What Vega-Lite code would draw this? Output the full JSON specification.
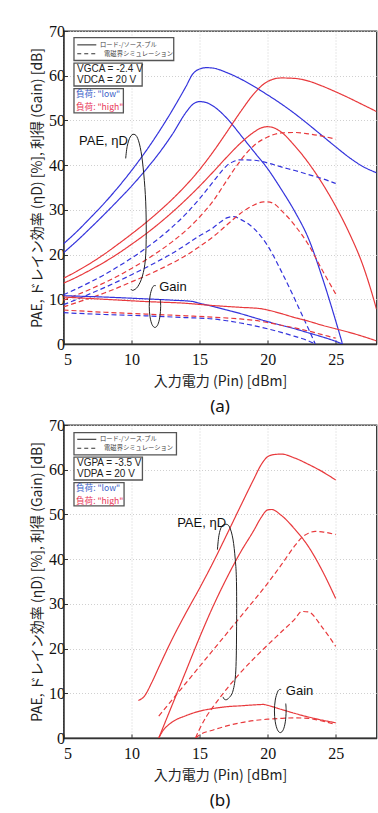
{
  "$schema": "https://vega.github.io/schema/vega-lite/v6.json",
  "padding": {"left": 29.5, "top": 22, "right": 0, "bottom": 0},
  "spacing": 0,
  "datasets": {
    "curves": [
      {"panel":"a","load":"low","method":"lp","metric":"de","x":5,"y":22.4},{"panel":"a","load":"low","method":"lp","metric":"de","x":6,"y":25.2},{"panel":"a","load":"low","method":"lp","metric":"de","x":7,"y":28.3},{"panel":"a","load":"low","method":"lp","metric":"de","x":8,"y":31.5},{"panel":"a","load":"low","method":"lp","metric":"de","x":9,"y":35.0},{"panel":"a","load":"low","method":"lp","metric":"de","x":10,"y":38.8},{"panel":"a","load":"low","method":"lp","metric":"de","x":11,"y":42.9},{"panel":"a","load":"low","method":"lp","metric":"de","x":12,"y":47.4},{"panel":"a","load":"low","method":"lp","metric":"de","x":13,"y":52.3},{"panel":"a","load":"low","method":"lp","metric":"de","x":14,"y":57.6},{"panel":"a","load":"low","method":"lp","metric":"de","x":14.5,"y":60.4},{"panel":"a","load":"low","method":"lp","metric":"de","x":15,"y":61.5},{"panel":"a","load":"low","method":"lp","metric":"de","x":15.5,"y":61.8},{"panel":"a","load":"low","method":"lp","metric":"de","x":16,"y":61.7},{"panel":"a","load":"low","method":"lp","metric":"de","x":17,"y":60.7},{"panel":"a","load":"low","method":"lp","metric":"de","x":18,"y":59.3},{"panel":"a","load":"low","method":"lp","metric":"de","x":19,"y":57.6},{"panel":"a","load":"low","method":"lp","metric":"de","x":20,"y":55.7},{"panel":"a","load":"low","method":"lp","metric":"de","x":21,"y":53.7},{"panel":"a","load":"low","method":"lp","metric":"de","x":22,"y":51.5},{"panel":"a","load":"low","method":"lp","metric":"de","x":23,"y":49.1},{"panel":"a","load":"low","method":"lp","metric":"de","x":24,"y":46.6},{"panel":"a","load":"low","method":"lp","metric":"de","x":25,"y":44.1},{"panel":"a","load":"low","method":"lp","metric":"de","x":26,"y":41.7},{"panel":"a","load":"low","method":"lp","metric":"de","x":27,"y":39.7},{"panel":"a","load":"low","method":"lp","metric":"de","x":28,"y":38.3},
      {"panel":"a","load":"low","method":"lp","metric":"pae","x":5,"y":20.4},{"panel":"a","load":"low","method":"lp","metric":"pae","x":6,"y":23.1},{"panel":"a","load":"low","method":"lp","metric":"pae","x":7,"y":26.0},{"panel":"a","load":"low","method":"lp","metric":"pae","x":8,"y":29.0},{"panel":"a","load":"low","method":"lp","metric":"pae","x":9,"y":32.1},{"panel":"a","load":"low","method":"lp","metric":"pae","x":10,"y":35.3},{"panel":"a","load":"low","method":"lp","metric":"pae","x":11,"y":38.8},{"panel":"a","load":"low","method":"lp","metric":"pae","x":12,"y":42.6},{"panel":"a","load":"low","method":"lp","metric":"pae","x":13,"y":46.9},{"panel":"a","load":"low","method":"lp","metric":"pae","x":14,"y":51.8},{"panel":"a","load":"low","method":"lp","metric":"pae","x":14.5,"y":53.6},{"panel":"a","load":"low","method":"lp","metric":"pae","x":15,"y":54.2},{"panel":"a","load":"low","method":"lp","metric":"pae","x":15.5,"y":54.0},{"panel":"a","load":"low","method":"lp","metric":"pae","x":16,"y":53.2},{"panel":"a","load":"low","method":"lp","metric":"pae","x":17,"y":50.5},{"panel":"a","load":"low","method":"lp","metric":"pae","x":18,"y":46.8},{"panel":"a","load":"low","method":"lp","metric":"pae","x":19,"y":43.0},{"panel":"a","load":"low","method":"lp","metric":"pae","x":20,"y":39.2},{"panel":"a","load":"low","method":"lp","metric":"pae","x":21,"y":34.6},{"panel":"a","load":"low","method":"lp","metric":"pae","x":22,"y":29.6},{"panel":"a","load":"low","method":"lp","metric":"pae","x":23,"y":23.6},{"panel":"a","load":"low","method":"lp","metric":"pae","x":24,"y":15.0},{"panel":"a","load":"low","method":"lp","metric":"pae","x":25,"y":5.2},{"panel":"a","load":"low","method":"lp","metric":"pae","x":25.5,"y":0},
      {"panel":"a","load":"high","method":"lp","metric":"de","x":5,"y":14.7},{"panel":"a","load":"high","method":"lp","metric":"de","x":6,"y":16.3},{"panel":"a","load":"high","method":"lp","metric":"de","x":7,"y":18.1},{"panel":"a","load":"high","method":"lp","metric":"de","x":8,"y":20.1},{"panel":"a","load":"high","method":"lp","metric":"de","x":9,"y":22.3},{"panel":"a","load":"high","method":"lp","metric":"de","x":10,"y":24.6},{"panel":"a","load":"high","method":"lp","metric":"de","x":11,"y":27.0},{"panel":"a","load":"high","method":"lp","metric":"de","x":12,"y":29.6},{"panel":"a","load":"high","method":"lp","metric":"de","x":13,"y":32.4},{"panel":"a","load":"high","method":"lp","metric":"de","x":14,"y":35.5},{"panel":"a","load":"high","method":"lp","metric":"de","x":15,"y":39.0},{"panel":"a","load":"high","method":"lp","metric":"de","x":16,"y":43.0},{"panel":"a","load":"high","method":"lp","metric":"de","x":17,"y":47.4},{"panel":"a","load":"high","method":"lp","metric":"de","x":18,"y":51.9},{"panel":"a","load":"high","method":"lp","metric":"de","x":19,"y":56.0},{"panel":"a","load":"high","method":"lp","metric":"de","x":19.5,"y":57.6},{"panel":"a","load":"high","method":"lp","metric":"de","x":20,"y":58.7},{"panel":"a","load":"high","method":"lp","metric":"de","x":20.5,"y":59.3},{"panel":"a","load":"high","method":"lp","metric":"de","x":21,"y":59.5},{"panel":"a","load":"high","method":"lp","metric":"de","x":22,"y":59.4},{"panel":"a","load":"high","method":"lp","metric":"de","x":23,"y":58.8},{"panel":"a","load":"high","method":"lp","metric":"de","x":24,"y":57.7},{"panel":"a","load":"high","method":"lp","metric":"de","x":25,"y":56.4},{"panel":"a","load":"high","method":"lp","metric":"de","x":26,"y":55.0},{"panel":"a","load":"high","method":"lp","metric":"de","x":27,"y":53.5},{"panel":"a","load":"high","method":"lp","metric":"de","x":28,"y":52.0},
      {"panel":"a","load":"high","method":"lp","metric":"pae","x":5,"y":13.6},{"panel":"a","load":"high","method":"lp","metric":"pae","x":6,"y":15.0},{"panel":"a","load":"high","method":"lp","metric":"pae","x":7,"y":16.6},{"panel":"a","load":"high","method":"lp","metric":"pae","x":8,"y":18.3},{"panel":"a","load":"high","method":"lp","metric":"pae","x":9,"y":20.2},{"panel":"a","load":"high","method":"lp","metric":"pae","x":10,"y":22.3},{"panel":"a","load":"high","method":"lp","metric":"pae","x":11,"y":24.5},{"panel":"a","load":"high","method":"lp","metric":"pae","x":12,"y":26.9},{"panel":"a","load":"high","method":"lp","metric":"pae","x":13,"y":29.5},{"panel":"a","load":"high","method":"lp","metric":"pae","x":14,"y":32.3},{"panel":"a","load":"high","method":"lp","metric":"pae","x":15,"y":35.3},{"panel":"a","load":"high","method":"lp","metric":"pae","x":16,"y":38.5},{"panel":"a","load":"high","method":"lp","metric":"pae","x":17,"y":41.8},{"panel":"a","load":"high","method":"lp","metric":"pae","x":18,"y":44.9},{"panel":"a","load":"high","method":"lp","metric":"pae","x":19,"y":47.4},{"panel":"a","load":"high","method":"lp","metric":"pae","x":19.5,"y":48.3},{"panel":"a","load":"high","method":"lp","metric":"pae","x":20,"y":48.6},{"panel":"a","load":"high","method":"lp","metric":"pae","x":20.5,"y":48.3},{"panel":"a","load":"high","method":"lp","metric":"pae","x":21,"y":47.4},{"panel":"a","load":"high","method":"lp","metric":"pae","x":22,"y":44.3},{"panel":"a","load":"high","method":"lp","metric":"pae","x":23,"y":40.5},{"panel":"a","load":"high","method":"lp","metric":"pae","x":24,"y":36.0},{"panel":"a","load":"high","method":"lp","metric":"pae","x":25,"y":30.8},{"panel":"a","load":"high","method":"lp","metric":"pae","x":26,"y":24.8},{"panel":"a","load":"high","method":"lp","metric":"pae","x":27,"y":17.6},{"panel":"a","load":"high","method":"lp","metric":"pae","x":27.5,"y":13.0},{"panel":"a","load":"high","method":"lp","metric":"pae","x":28,"y":7.8},
      {"panel":"a","load":"low","method":"em","metric":"de","x":5,"y":11.0},{"panel":"a","load":"low","method":"em","metric":"de","x":6,"y":12.4},{"panel":"a","load":"low","method":"em","metric":"de","x":7,"y":13.9},{"panel":"a","load":"low","method":"em","metric":"de","x":8,"y":15.5},{"panel":"a","load":"low","method":"em","metric":"de","x":9,"y":17.3},{"panel":"a","load":"low","method":"em","metric":"de","x":10,"y":19.2},{"panel":"a","load":"low","method":"em","metric":"de","x":11,"y":21.3},{"panel":"a","load":"low","method":"em","metric":"de","x":12,"y":23.6},{"panel":"a","load":"low","method":"em","metric":"de","x":13,"y":26.2},{"panel":"a","load":"low","method":"em","metric":"de","x":14,"y":29.1},{"panel":"a","load":"low","method":"em","metric":"de","x":15,"y":32.5},{"panel":"a","load":"low","method":"em","metric":"de","x":16,"y":36.3},{"panel":"a","load":"low","method":"em","metric":"de","x":16.5,"y":38.2},{"panel":"a","load":"low","method":"em","metric":"de","x":17,"y":39.9},{"panel":"a","load":"low","method":"em","metric":"de","x":17.5,"y":40.8},{"panel":"a","load":"low","method":"em","metric":"de","x":18,"y":41.2},{"panel":"a","load":"low","method":"em","metric":"de","x":19,"y":41.1},{"panel":"a","load":"low","method":"em","metric":"de","x":20,"y":40.5},{"panel":"a","load":"low","method":"em","metric":"de","x":21,"y":39.6},{"panel":"a","load":"low","method":"em","metric":"de","x":22,"y":38.8},{"panel":"a","load":"low","method":"em","metric":"de","x":23,"y":37.9},{"panel":"a","load":"low","method":"em","metric":"de","x":24,"y":37.0},{"panel":"a","load":"low","method":"em","metric":"de","x":25,"y":35.9},
      {"panel":"a","load":"low","method":"em","metric":"pae","x":5,"y":8.8},{"panel":"a","load":"low","method":"em","metric":"pae","x":6,"y":10.0},{"panel":"a","load":"low","method":"em","metric":"pae","x":7,"y":11.3},{"panel":"a","load":"low","method":"em","metric":"pae","x":8,"y":12.6},{"panel":"a","load":"low","method":"em","metric":"pae","x":9,"y":14.0},{"panel":"a","load":"low","method":"em","metric":"pae","x":10,"y":15.5},{"panel":"a","load":"low","method":"em","metric":"pae","x":11,"y":17.0},{"panel":"a","load":"low","method":"em","metric":"pae","x":12,"y":18.6},{"panel":"a","load":"low","method":"em","metric":"pae","x":13,"y":20.3},{"panel":"a","load":"low","method":"em","metric":"pae","x":14,"y":22.2},{"panel":"a","load":"low","method":"em","metric":"pae","x":15,"y":24.2},{"panel":"a","load":"low","method":"em","metric":"pae","x":16,"y":26.0},{"panel":"a","load":"low","method":"em","metric":"pae","x":16.5,"y":27.2},{"panel":"a","load":"low","method":"em","metric":"pae","x":17,"y":28.2},{"panel":"a","load":"low","method":"em","metric":"pae","x":17.5,"y":28.5},{"panel":"a","load":"low","method":"em","metric":"pae","x":18,"y":27.9},{"panel":"a","load":"low","method":"em","metric":"pae","x":19,"y":25.8},{"panel":"a","load":"low","method":"em","metric":"pae","x":20,"y":22.0},{"panel":"a","load":"low","method":"em","metric":"pae","x":21,"y":16.3},{"panel":"a","load":"low","method":"em","metric":"pae","x":22,"y":10.0},{"panel":"a","load":"low","method":"em","metric":"pae","x":22.5,"y":6.7},{"panel":"a","load":"low","method":"em","metric":"pae","x":23,"y":3.4},{"panel":"a","load":"low","method":"em","metric":"pae","x":23.5,"y":0},
      {"panel":"a","load":"high","method":"em","metric":"de","x":5,"y":9.8},{"panel":"a","load":"high","method":"em","metric":"de","x":6,"y":11.0},{"panel":"a","load":"high","method":"em","metric":"de","x":7,"y":12.3},{"panel":"a","load":"high","method":"em","metric":"de","x":8,"y":13.7},{"panel":"a","load":"high","method":"em","metric":"de","x":9,"y":15.2},{"panel":"a","load":"high","method":"em","metric":"de","x":10,"y":16.9},{"panel":"a","load":"high","method":"em","metric":"de","x":11,"y":18.7},{"panel":"a","load":"high","method":"em","metric":"de","x":12,"y":20.7},{"panel":"a","load":"high","method":"em","metric":"de","x":13,"y":22.9},{"panel":"a","load":"high","method":"em","metric":"de","x":14,"y":25.4},{"panel":"a","load":"high","method":"em","metric":"de","x":15,"y":28.4},{"panel":"a","load":"high","method":"em","metric":"de","x":16,"y":32.0},{"panel":"a","load":"high","method":"em","metric":"de","x":17,"y":36.6},{"panel":"a","load":"high","method":"em","metric":"de","x":18,"y":41.0},{"panel":"a","load":"high","method":"em","metric":"de","x":19,"y":44.4},{"panel":"a","load":"high","method":"em","metric":"de","x":20,"y":46.3},{"panel":"a","load":"high","method":"em","metric":"de","x":21,"y":47.2},{"panel":"a","load":"high","method":"em","metric":"de","x":22,"y":47.3},{"panel":"a","load":"high","method":"em","metric":"de","x":23,"y":47.0},{"panel":"a","load":"high","method":"em","metric":"de","x":24,"y":46.5},{"panel":"a","load":"high","method":"em","metric":"de","x":25,"y":45.8},
      {"panel":"a","load":"high","method":"em","metric":"pae","x":5,"y":8.3},{"panel":"a","load":"high","method":"em","metric":"pae","x":6,"y":9.3},{"panel":"a","load":"high","method":"em","metric":"pae","x":7,"y":10.3},{"panel":"a","load":"high","method":"em","metric":"pae","x":8,"y":11.4},{"panel":"a","load":"high","method":"em","metric":"pae","x":9,"y":12.6},{"panel":"a","load":"high","method":"em","metric":"pae","x":10,"y":13.9},{"panel":"a","load":"high","method":"em","metric":"pae","x":11,"y":15.2},{"panel":"a","load":"high","method":"em","metric":"pae","x":12,"y":16.6},{"panel":"a","load":"high","method":"em","metric":"pae","x":13,"y":18.1},{"panel":"a","load":"high","method":"em","metric":"pae","x":14,"y":19.8},{"panel":"a","load":"high","method":"em","metric":"pae","x":15,"y":21.8},{"panel":"a","load":"high","method":"em","metric":"pae","x":16,"y":24.0},{"panel":"a","load":"high","method":"em","metric":"pae","x":17,"y":26.6},{"panel":"a","load":"high","method":"em","metric":"pae","x":18,"y":29.2},{"panel":"a","load":"high","method":"em","metric":"pae","x":19,"y":31.1},{"panel":"a","load":"high","method":"em","metric":"pae","x":19.7,"y":31.8},{"panel":"a","load":"high","method":"em","metric":"pae","x":20,"y":31.8},{"panel":"a","load":"high","method":"em","metric":"pae","x":20.5,"y":31.3},{"panel":"a","load":"high","method":"em","metric":"pae","x":21,"y":29.9},{"panel":"a","load":"high","method":"em","metric":"pae","x":22,"y":26.5},{"panel":"a","load":"high","method":"em","metric":"pae","x":23,"y":22.2},{"panel":"a","load":"high","method":"em","metric":"pae","x":24,"y":16.6},{"panel":"a","load":"high","method":"em","metric":"pae","x":25,"y":11.2},
      {"panel":"a","load":"low","method":"lp","metric":"gain","x":5,"y":10.8},{"panel":"a","load":"low","method":"lp","metric":"gain","x":8,"y":10.5},{"panel":"a","load":"low","method":"lp","metric":"gain","x":11,"y":10.1},{"panel":"a","load":"low","method":"lp","metric":"gain","x":13,"y":9.8},{"panel":"a","load":"low","method":"lp","metric":"gain","x":14.5,"y":9.5},{"panel":"a","load":"low","method":"lp","metric":"gain","x":15,"y":9.1},{"panel":"a","load":"low","method":"lp","metric":"gain","x":16,"y":8.4},{"panel":"a","load":"low","method":"lp","metric":"gain","x":17,"y":7.6},{"panel":"a","load":"low","method":"lp","metric":"gain","x":18,"y":6.8},{"panel":"a","load":"low","method":"lp","metric":"gain","x":19,"y":5.9},{"panel":"a","load":"low","method":"lp","metric":"gain","x":20,"y":5.0},{"panel":"a","load":"low","method":"lp","metric":"gain","x":21,"y":4.2},{"panel":"a","load":"low","method":"lp","metric":"gain","x":22,"y":3.4},{"panel":"a","load":"low","method":"lp","metric":"gain","x":23,"y":2.5},{"panel":"a","load":"low","method":"lp","metric":"gain","x":24,"y":1.6},{"panel":"a","load":"low","method":"lp","metric":"gain","x":25,"y":0.6},{"panel":"a","load":"low","method":"lp","metric":"gain","x":25.5,"y":0},
      {"panel":"a","load":"high","method":"lp","metric":"gain","x":5,"y":10.5},{"panel":"a","load":"high","method":"lp","metric":"gain","x":8,"y":10.0},{"panel":"a","load":"high","method":"lp","metric":"gain","x":11,"y":9.5},{"panel":"a","load":"high","method":"lp","metric":"gain","x":14,"y":9.1},{"panel":"a","load":"high","method":"lp","metric":"gain","x":16,"y":8.6},{"panel":"a","load":"high","method":"lp","metric":"gain","x":18,"y":8.2},{"panel":"a","load":"high","method":"lp","metric":"gain","x":19.5,"y":7.9},{"panel":"a","load":"high","method":"lp","metric":"gain","x":20,"y":7.6},{"panel":"a","load":"high","method":"lp","metric":"gain","x":21,"y":6.8},{"panel":"a","load":"high","method":"lp","metric":"gain","x":22,"y":5.9},{"panel":"a","load":"high","method":"lp","metric":"gain","x":23,"y":5.1},{"panel":"a","load":"high","method":"lp","metric":"gain","x":24,"y":4.2},{"panel":"a","load":"high","method":"lp","metric":"gain","x":25,"y":3.4},{"panel":"a","load":"high","method":"lp","metric":"gain","x":26,"y":2.6},{"panel":"a","load":"high","method":"lp","metric":"gain","x":27,"y":1.7},{"panel":"a","load":"high","method":"lp","metric":"gain","x":28,"y":0.7},
      {"panel":"a","load":"low","method":"em","metric":"gain","x":5,"y":7.0},{"panel":"a","load":"low","method":"em","metric":"gain","x":8,"y":6.6},{"panel":"a","load":"low","method":"em","metric":"gain","x":11,"y":6.3},{"panel":"a","load":"low","method":"em","metric":"gain","x":14,"y":5.9},{"panel":"a","load":"low","method":"em","metric":"gain","x":16,"y":5.6},{"panel":"a","load":"low","method":"em","metric":"gain","x":17,"y":5.2},{"panel":"a","load":"low","method":"em","metric":"gain","x":18,"y":4.7},{"panel":"a","load":"low","method":"em","metric":"gain","x":19,"y":4.1},{"panel":"a","load":"low","method":"em","metric":"gain","x":20,"y":3.4},{"panel":"a","load":"low","method":"em","metric":"gain","x":21,"y":2.6},{"panel":"a","load":"low","method":"em","metric":"gain","x":22,"y":1.7},{"panel":"a","load":"low","method":"em","metric":"gain","x":23,"y":0.7},{"panel":"a","load":"low","method":"em","metric":"gain","x":23.5,"y":0},
      {"panel":"a","load":"high","method":"em","metric":"gain","x":5,"y":7.6},{"panel":"a","load":"high","method":"em","metric":"gain","x":8,"y":7.1},{"panel":"a","load":"high","method":"em","metric":"gain","x":11,"y":6.7},{"panel":"a","load":"high","method":"em","metric":"gain","x":14,"y":6.3},{"panel":"a","load":"high","method":"em","metric":"gain","x":16,"y":6.0},{"panel":"a","load":"high","method":"em","metric":"gain","x":18,"y":5.6},{"panel":"a","load":"high","method":"em","metric":"gain","x":19,"y":5.3},{"panel":"a","load":"high","method":"em","metric":"gain","x":20,"y":4.8},{"panel":"a","load":"high","method":"em","metric":"gain","x":21,"y":4.2},{"panel":"a","load":"high","method":"em","metric":"gain","x":22,"y":3.6},{"panel":"a","load":"high","method":"em","metric":"gain","x":23,"y":2.9},{"panel":"a","load":"high","method":"em","metric":"gain","x":24,"y":2.1},{"panel":"a","load":"high","method":"em","metric":"gain","x":25,"y":1.3},
      {"panel":"b","load":"high","method":"lp","metric":"de","x":10.5,"y":8.4},{"panel":"b","load":"high","method":"lp","metric":"de","x":10.9,"y":9.2},{"panel":"b","load":"high","method":"lp","metric":"de","x":11.5,"y":12.5},{"panel":"b","load":"high","method":"lp","metric":"de","x":12,"y":15.8},{"panel":"b","load":"high","method":"lp","metric":"de","x":13,"y":22.2},{"panel":"b","load":"high","method":"lp","metric":"de","x":14,"y":28.0},{"panel":"b","load":"high","method":"lp","metric":"de","x":15,"y":33.5},{"panel":"b","load":"high","method":"lp","metric":"de","x":16,"y":39.3},{"panel":"b","load":"high","method":"lp","metric":"de","x":17,"y":45.5},{"panel":"b","load":"high","method":"lp","metric":"de","x":18,"y":51.8},{"panel":"b","load":"high","method":"lp","metric":"de","x":19,"y":58.0},{"panel":"b","load":"high","method":"lp","metric":"de","x":19.5,"y":61.0},{"panel":"b","load":"high","method":"lp","metric":"de","x":20,"y":62.9},{"panel":"b","load":"high","method":"lp","metric":"de","x":20.5,"y":63.4},{"panel":"b","load":"high","method":"lp","metric":"de","x":21,"y":63.5},{"panel":"b","load":"high","method":"lp","metric":"de","x":22,"y":62.6},{"panel":"b","load":"high","method":"lp","metric":"de","x":23,"y":61.2},{"panel":"b","load":"high","method":"lp","metric":"de","x":24,"y":59.6},{"panel":"b","load":"high","method":"lp","metric":"de","x":25,"y":57.7},
      {"panel":"b","load":"high","method":"lp","metric":"pae","x":12,"y":0},{"panel":"b","load":"high","method":"lp","metric":"pae","x":13,"y":7.5},{"panel":"b","load":"high","method":"lp","metric":"pae","x":14,"y":15.0},{"panel":"b","load":"high","method":"lp","metric":"pae","x":15,"y":22.5},{"panel":"b","load":"high","method":"lp","metric":"pae","x":16,"y":29.5},{"panel":"b","load":"high","method":"lp","metric":"pae","x":17,"y":35.8},{"panel":"b","load":"high","method":"lp","metric":"pae","x":18,"y":41.5},{"panel":"b","load":"high","method":"lp","metric":"pae","x":19,"y":46.5},{"panel":"b","load":"high","method":"lp","metric":"pae","x":19.5,"y":49.2},{"panel":"b","load":"high","method":"lp","metric":"pae","x":20,"y":51.0},{"panel":"b","load":"high","method":"lp","metric":"pae","x":20.3,"y":51.1},{"panel":"b","load":"high","method":"lp","metric":"pae","x":21,"y":49.8},{"panel":"b","load":"high","method":"lp","metric":"pae","x":22,"y":46.7},{"panel":"b","load":"high","method":"lp","metric":"pae","x":23,"y":42.8},{"panel":"b","load":"high","method":"lp","metric":"pae","x":24,"y":37.5},{"panel":"b","load":"high","method":"lp","metric":"pae","x":25,"y":31.2},
      {"panel":"b","load":"high","method":"em","metric":"de","x":12,"y":4.9},{"panel":"b","load":"high","method":"em","metric":"de","x":13,"y":8.6},{"panel":"b","load":"high","method":"em","metric":"de","x":14,"y":12.3},{"panel":"b","load":"high","method":"em","metric":"de","x":15,"y":16.0},{"panel":"b","load":"high","method":"em","metric":"de","x":16,"y":19.7},{"panel":"b","load":"high","method":"em","metric":"de","x":17,"y":23.4},{"panel":"b","load":"high","method":"em","metric":"de","x":18,"y":27.1},{"panel":"b","load":"high","method":"em","metric":"de","x":19,"y":30.8},{"panel":"b","load":"high","method":"em","metric":"de","x":20,"y":34.6},{"panel":"b","load":"high","method":"em","metric":"de","x":21,"y":38.7},{"panel":"b","load":"high","method":"em","metric":"de","x":22,"y":43.0},{"panel":"b","load":"high","method":"em","metric":"de","x":22.5,"y":44.8},{"panel":"b","load":"high","method":"em","metric":"de","x":23,"y":45.8},{"panel":"b","load":"high","method":"em","metric":"de","x":23.5,"y":46.2},{"panel":"b","load":"high","method":"em","metric":"de","x":24,"y":46.1},{"panel":"b","load":"high","method":"em","metric":"de","x":25,"y":45.5},
      {"panel":"b","load":"high","method":"em","metric":"pae","x":14.7,"y":0},{"panel":"b","load":"high","method":"em","metric":"pae","x":15,"y":2.0},{"panel":"b","load":"high","method":"em","metric":"pae","x":15.5,"y":4.8},{"panel":"b","load":"high","method":"em","metric":"pae","x":16,"y":7.0},{"panel":"b","load":"high","method":"em","metric":"pae","x":17,"y":11.0},{"panel":"b","load":"high","method":"em","metric":"pae","x":18,"y":14.6},{"panel":"b","load":"high","method":"em","metric":"pae","x":19,"y":17.8},{"panel":"b","load":"high","method":"em","metric":"pae","x":20,"y":20.8},{"panel":"b","load":"high","method":"em","metric":"pae","x":21,"y":23.7},{"panel":"b","load":"high","method":"em","metric":"pae","x":22,"y":26.6},{"panel":"b","load":"high","method":"em","metric":"pae","x":22.5,"y":28.3},{"panel":"b","load":"high","method":"em","metric":"pae","x":23,"y":28.2},{"panel":"b","load":"high","method":"em","metric":"pae","x":24,"y":24.8},{"panel":"b","load":"high","method":"em","metric":"pae","x":25,"y":20.5},
      {"panel":"b","load":"high","method":"lp","metric":"gain","x":12,"y":0},{"panel":"b","load":"high","method":"lp","metric":"gain","x":12.3,"y":1.6},{"panel":"b","load":"high","method":"lp","metric":"gain","x":12.7,"y":2.9},{"panel":"b","load":"high","method":"lp","metric":"gain","x":13,"y":3.6},{"panel":"b","load":"high","method":"lp","metric":"gain","x":14,"y":5.0},{"panel":"b","load":"high","method":"lp","metric":"gain","x":15,"y":6.0},{"panel":"b","load":"high","method":"lp","metric":"gain","x":16,"y":6.6},{"panel":"b","load":"high","method":"lp","metric":"gain","x":17,"y":7.0},{"panel":"b","load":"high","method":"lp","metric":"gain","x":18,"y":7.2},{"panel":"b","load":"high","method":"lp","metric":"gain","x":19,"y":7.4},{"panel":"b","load":"high","method":"lp","metric":"gain","x":19.7,"y":7.5},{"panel":"b","load":"high","method":"lp","metric":"gain","x":20,"y":7.3},{"panel":"b","load":"high","method":"lp","metric":"gain","x":21,"y":6.4},{"panel":"b","load":"high","method":"lp","metric":"gain","x":22,"y":5.5},{"panel":"b","load":"high","method":"lp","metric":"gain","x":23,"y":4.7},{"panel":"b","load":"high","method":"lp","metric":"gain","x":24,"y":4.0},{"panel":"b","load":"high","method":"lp","metric":"gain","x":25,"y":3.4},
      {"panel":"b","load":"high","method":"em","metric":"gain","x":14.7,"y":0},{"panel":"b","load":"high","method":"em","metric":"gain","x":15,"y":0.7},{"panel":"b","load":"high","method":"em","metric":"gain","x":16,"y":1.8},{"panel":"b","load":"high","method":"em","metric":"gain","x":17,"y":2.7},{"panel":"b","load":"high","method":"em","metric":"gain","x":18,"y":3.4},{"panel":"b","load":"high","method":"em","metric":"gain","x":19,"y":3.9},{"panel":"b","load":"high","method":"em","metric":"gain","x":20,"y":4.2},{"panel":"b","load":"high","method":"em","metric":"gain","x":21,"y":4.4},{"panel":"b","load":"high","method":"em","metric":"gain","x":22,"y":4.5},{"panel":"b","load":"high","method":"em","metric":"gain","x":23,"y":4.4},{"panel":"b","load":"high","method":"em","metric":"gain","x":24,"y":3.8},{"panel":"b","load":"high","method":"em","metric":"gain","x":25,"y":3.0}
    ],
    "rings": [
      {"panel":"a","shape":"eff","i":0,"x":9.57,"y":41.5},{"panel":"a","shape":"eff","i":1,"x":9.68,"y":44.2},{"panel":"a","shape":"eff","i":2,"x":9.9,"y":46.3},{"panel":"a","shape":"eff","i":3,"x":10.18,"y":46.9},{"panel":"a","shape":"eff","i":4,"x":10.45,"y":46.0},{"panel":"a","shape":"eff","i":5,"x":10.7,"y":43.0},{"panel":"a","shape":"eff","i":6,"x":10.9,"y":38.0},{"panel":"a","shape":"eff","i":7,"x":11.04,"y":31.8},{"panel":"a","shape":"eff","i":8,"x":11.08,"y":25.0},{"panel":"a","shape":"eff","i":9,"x":11.02,"y":19.0},{"panel":"a","shape":"eff","i":10,"x":10.8,"y":15.2},{"panel":"a","shape":"eff","i":11,"x":10.45,"y":12.8},{"panel":"a","shape":"eff","i":12,"x":10.1,"y":12.0},{"panel":"a","shape":"eff","i":13,"x":9.95,"y":12.3},
      {"panel":"a","shape":"gain","i":0,"x":11.79,"y":13.03},{"panel":"a","shape":"gain","i":1,"x":11.65,"y":13.03},{"panel":"a","shape":"gain","i":2,"x":11.51,"y":12.47},{"panel":"a","shape":"gain","i":3,"x":11.36,"y":10.75},{"panel":"a","shape":"gain","i":4,"x":11.3,"y":8.4},{"panel":"a","shape":"gain","i":5,"x":11.36,"y":6.05},{"panel":"a","shape":"gain","i":6,"x":11.51,"y":4.33},{"panel":"a","shape":"gain","i":7,"x":11.72,"y":3.7},{"panel":"a","shape":"gain","i":8,"x":11.93,"y":4.33},{"panel":"a","shape":"gain","i":9,"x":12.08,"y":6.05},{"panel":"a","shape":"gain","i":10,"x":12.14,"y":8.4},{"panel":"a","shape":"gain","i":11,"x":12.11,"y":10.01},
      {"panel":"b","shape":"eff","i":0,"x":16.31,"y":42.1},{"panel":"b","shape":"eff","i":1,"x":16.42,"y":45.3},{"panel":"b","shape":"eff","i":2,"x":16.62,"y":47.3},{"panel":"b","shape":"eff","i":3,"x":16.93,"y":47.8},{"panel":"b","shape":"eff","i":4,"x":17.2,"y":47.2},{"panel":"b","shape":"eff","i":5,"x":17.45,"y":44.5},{"panel":"b","shape":"eff","i":6,"x":17.62,"y":40.0},{"panel":"b","shape":"eff","i":7,"x":17.71,"y":35.0},{"panel":"b","shape":"eff","i":8,"x":17.72,"y":25.0},{"panel":"b","shape":"eff","i":9,"x":17.66,"y":15.0},{"panel":"b","shape":"eff","i":10,"x":17.45,"y":10.5},{"panel":"b","shape":"eff","i":11,"x":17.1,"y":8.8},{"panel":"b","shape":"eff","i":12,"x":16.85,"y":8.6},{"panel":"b","shape":"eff","i":13,"x":16.72,"y":9.2},
      {"panel":"b","shape":"gain","i":0,"x":21.0,"y":10.83},{"panel":"b","shape":"gain","i":1,"x":20.86,"y":10.83},{"panel":"b","shape":"gain","i":2,"x":20.72,"y":10.25},{"panel":"b","shape":"gain","i":3,"x":20.56,"y":8.48},{"panel":"b","shape":"gain","i":4,"x":20.5,"y":6.05},{"panel":"b","shape":"gain","i":5,"x":20.56,"y":3.62},{"panel":"b","shape":"gain","i":6,"x":20.72,"y":1.85},{"panel":"b","shape":"gain","i":7,"x":20.93,"y":1.2},{"panel":"b","shape":"gain","i":8,"x":21.15,"y":1.85},{"panel":"b","shape":"gain","i":9,"x":21.3,"y":3.62},{"panel":"b","shape":"gain","i":10,"x":21.36,"y":6.05},{"panel":"b","shape":"gain","i":11,"x":21.33,"y":7.71}
    ],
    "one": [{}]
  },
  "vconcat": [
    {
      "width": 313, "height": 313,
      "title": {"text": "(a)", "orient": "bottom", "frame": "group", "anchor": "middle", "font": "Noto Sans", "fontSize": 17, "fontWeight": "normal", "color": "#111", "offset": 11},
      "layer": [
        {"data": {"name": "curves"}, "transform": [{"filter": "datum.panel == 'a'"}],
         "mark": {"type": "line", "interpolate": "monotone", "strokeWidth": 1.2, "clip": true},
         "encoding": {
           "x": {"field": "x", "type": "quantitative", "scale": {"domain": [5, 28], "nice": false}, "axis": {"values": [5, 10, 15, 20, 25], "title": "入力電力 (Pin) [dBm]"}},
           "y": {"field": "y", "type": "quantitative", "scale": {"domain": [0, 70], "nice": false}, "axis": {"values": [0, 10, 20, 30, 40, 50, 60, 70], "title": "PAE, ドレイン効率 (ηD) [%], 利得 (Gain) [dB]"}},
           "color": {"field": "load", "type": "nominal", "scale": {"domain": ["low", "high"], "range": ["#3434dc", "#e8393c"]}, "legend": null},
           "strokeDash": {"field": "method", "type": "nominal", "scale": {"domain": ["lp", "em"], "range": [[1, 0], [5, 3]]}, "legend": null},
           "detail": {"field": "metric"}
         }},
        {"data": {"name": "rings"}, "transform": [{"filter": "datum.panel == 'a'"}],
         "mark": {"type": "line", "interpolate": "cardinal", "color": "#222", "strokeWidth": 1},
         "encoding": {
           "x": {"field": "x", "type": "quantitative", "scale": {"domain": [5, 28], "nice": false}},
           "y": {"field": "y", "type": "quantitative", "scale": {"domain": [0, 70], "nice": false}},
           "detail": {"field": "shape"}, "order": {"field": "i"}
         }},
        {"data": {"name": "one"}, "mark": {"type": "text", "text": "PAE, ηD", "align": "left", "baseline": "middle", "font": "Liberation Sans", "fontSize": 13, "color": "#111"},
         "encoding": {"x": {"datum": 6.14, "type": "quantitative"}, "y": {"datum": 45.3, "type": "quantitative"}}},
        {"data": {"name": "one"}, "mark": {"type": "text", "text": "Gain", "align": "left", "baseline": "middle", "font": "Liberation Sans", "fontSize": 13, "color": "#111"},
         "encoding": {"x": {"datum": 12.03, "type": "quantitative"}, "y": {"datum": 12.8, "type": "quantitative"}}},
        {"data": {"name": "one"}, "mark": {"type": "rect", "fill": "white", "stroke": "#555", "strokeWidth": 1.3},
         "encoding": {"x": {"datum": 5.77, "type": "quantitative"}, "x2": {"datum": 13.1}, "y": {"datum": 68.5, "type": "quantitative"}, "y2": {"datum": 63.4}}},
        {"data": {"name": "one"}, "mark": {"type": "rule", "color": "#333", "strokeWidth": 1.1},
         "encoding": {"x": {"datum": 6.01, "type": "quantitative"}, "x2": {"datum": 7.41}, "y": {"datum": 66.9, "type": "quantitative"}}},
        {"data": {"name": "one"}, "mark": {"type": "rule", "color": "#333", "strokeWidth": 1.1, "strokeDash": [4, 3]},
         "encoding": {"x": {"datum": 6.01, "type": "quantitative"}, "x2": {"datum": 7.41}, "y": {"datum": 64.9, "type": "quantitative"}}},
        {"data": {"name": "one"}, "mark": {"type": "text", "text": "ロード-/ソース-プル", "align": "left", "baseline": "middle", "font": "Noto Sans CJK JP", "fontSize": 6.3, "color": "#444"},
         "encoding": {"x": {"datum": 7.68, "type": "quantitative"}, "y": {"datum": 66.9, "type": "quantitative"}}},
        {"data": {"name": "one"}, "mark": {"type": "text", "text": "電磁界シミュレーション", "align": "left", "baseline": "middle", "font": "Noto Sans CJK JP", "fontSize": 6.3, "color": "#444"},
         "encoding": {"x": {"datum": 7.98, "type": "quantitative"}, "y": {"datum": 64.9, "type": "quantitative"}}},
        {"data": {"name": "one"}, "mark": {"type": "rect", "fill": "white", "stroke": "#555", "strokeWidth": 1.3},
         "encoding": {"x": {"datum": 5.77, "type": "quantitative"}, "x2": {"datum": 10.78}, "y": {"datum": 62.8, "type": "quantitative"}, "y2": {"datum": 57.7}}},
        {"data": {"name": "one"}, "mark": {"type": "text", "text": "VGCA = -2.4 V", "align": "left", "baseline": "middle", "font": "Liberation Sans", "fontSize": 10, "color": "#222"},
         "encoding": {"x": {"datum": 5.99, "type": "quantitative"}, "y": {"datum": 61.55, "type": "quantitative"}}},
        {"data": {"name": "one"}, "mark": {"type": "text", "text": "VDCA = 20 V", "align": "left", "baseline": "middle", "font": "Liberation Sans", "fontSize": 10, "color": "#222"},
         "encoding": {"x": {"datum": 5.99, "type": "quantitative"}, "y": {"datum": 58.95, "type": "quantitative"}}},
        {"data": {"name": "one"}, "mark": {"type": "rect", "fill": "white", "stroke": "#555", "strokeWidth": 1.3},
         "encoding": {"x": {"datum": 5.77, "type": "quantitative"}, "x2": {"datum": 9.4}, "y": {"datum": 57.1, "type": "quantitative"}, "y2": {"datum": 51.7}}},
        {"data": {"name": "one"}, "mark": {"type": "text", "text": "負荷: \"low\"", "align": "left", "baseline": "middle", "font": "Noto Sans CJK JP", "fontSize": 8.6, "color": "#3d62c8"},
         "encoding": {"x": {"datum": 5.92, "type": "quantitative"}, "y": {"datum": 55.8, "type": "quantitative"}}},
        {"data": {"name": "one"}, "mark": {"type": "text", "text": "負荷: \"high\"", "align": "left", "baseline": "middle", "font": "Noto Sans CJK JP", "fontSize": 8.6, "color": "#e8385a"},
         "encoding": {"x": {"datum": 5.92, "type": "quantitative"}, "y": {"datum": 53.0, "type": "quantitative"}}}
      ]
    },
    {
      "width": 313, "height": 313,
      "title": {"text": "(b)", "orient": "bottom", "frame": "group", "anchor": "middle", "font": "Noto Sans", "fontSize": 17, "fontWeight": "normal", "color": "#111", "offset": 11},
      "layer": [
        {"data": {"name": "curves"}, "transform": [{"filter": "datum.panel == 'b'"}],
         "mark": {"type": "line", "interpolate": "monotone", "strokeWidth": 1.2, "clip": true},
         "encoding": {
           "x": {"field": "x", "type": "quantitative", "scale": {"domain": [5, 28], "nice": false}, "axis": {"values": [5, 10, 15, 20, 25], "title": "入力電力 (Pin) [dBm]"}},
           "y": {"field": "y", "type": "quantitative", "scale": {"domain": [0, 70], "nice": false}, "axis": {"values": [0, 10, 20, 30, 40, 50, 60, 70], "title": "PAE, ドレイン効率 (ηD) [%], 利得 (Gain) [dB]"}},
           "color": {"field": "load", "type": "nominal", "scale": {"domain": ["low", "high"], "range": ["#3434dc", "#e8393c"]}, "legend": null},
           "strokeDash": {"field": "method", "type": "nominal", "scale": {"domain": ["lp", "em"], "range": [[1, 0], [5, 3]]}, "legend": null},
           "detail": {"field": "metric"}
         }},
        {"data": {"name": "rings"}, "transform": [{"filter": "datum.panel == 'b'"}],
         "mark": {"type": "line", "interpolate": "cardinal", "color": "#222", "strokeWidth": 1},
         "encoding": {
           "x": {"field": "x", "type": "quantitative", "scale": {"domain": [5, 28], "nice": false}},
           "y": {"field": "y", "type": "quantitative", "scale": {"domain": [0, 70], "nice": false}},
           "detail": {"field": "shape"}, "order": {"field": "i"}
         }},
        {"data": {"name": "one"}, "mark": {"type": "text", "text": "PAE, ηD", "align": "left", "baseline": "middle", "font": "Liberation Sans", "fontSize": 13, "color": "#111"},
         "encoding": {"x": {"datum": 13.35, "type": "quantitative"}, "y": {"datum": 48.0, "type": "quantitative"}}},
        {"data": {"name": "one"}, "mark": {"type": "text", "text": "Gain", "align": "left", "baseline": "middle", "font": "Liberation Sans", "fontSize": 13, "color": "#111"},
         "encoding": {"x": {"datum": 21.34, "type": "quantitative"}, "y": {"datum": 10.5, "type": "quantitative"}}},
        {"data": {"name": "one"}, "mark": {"type": "rect", "fill": "white", "stroke": "#555", "strokeWidth": 1.3},
         "encoding": {"x": {"datum": 5.77, "type": "quantitative"}, "x2": {"datum": 13.3}, "y": {"datum": 68.3, "type": "quantitative"}, "y2": {"datum": 63.3}}},
        {"data": {"name": "one"}, "mark": {"type": "rule", "color": "#333", "strokeWidth": 1.1},
         "encoding": {"x": {"datum": 6.01, "type": "quantitative"}, "x2": {"datum": 7.41}, "y": {"datum": 66.8, "type": "quantitative"}}},
        {"data": {"name": "one"}, "mark": {"type": "rule", "color": "#333", "strokeWidth": 1.1, "strokeDash": [4, 3]},
         "encoding": {"x": {"datum": 6.01, "type": "quantitative"}, "x2": {"datum": 7.41}, "y": {"datum": 64.8, "type": "quantitative"}}},
        {"data": {"name": "one"}, "mark": {"type": "text", "text": "ロード-/ソース-プル", "align": "left", "baseline": "middle", "font": "Noto Sans CJK JP", "fontSize": 6.3, "color": "#444"},
         "encoding": {"x": {"datum": 7.68, "type": "quantitative"}, "y": {"datum": 66.8, "type": "quantitative"}}},
        {"data": {"name": "one"}, "mark": {"type": "text", "text": "電磁界シミュレーション", "align": "left", "baseline": "middle", "font": "Noto Sans CJK JP", "fontSize": 6.3, "color": "#444"},
         "encoding": {"x": {"datum": 7.98, "type": "quantitative"}, "y": {"datum": 64.8, "type": "quantitative"}}},
        {"data": {"name": "one"}, "mark": {"type": "rect", "fill": "white", "stroke": "#555", "strokeWidth": 1.3},
         "encoding": {"x": {"datum": 5.77, "type": "quantitative"}, "x2": {"datum": 10.8}, "y": {"datum": 62.8, "type": "quantitative"}, "y2": {"datum": 57.7}}},
        {"data": {"name": "one"}, "mark": {"type": "text", "text": "VGPA = -3.5 V", "align": "left", "baseline": "middle", "font": "Liberation Sans", "fontSize": 10, "color": "#222"},
         "encoding": {"x": {"datum": 5.99, "type": "quantitative"}, "y": {"datum": 61.5, "type": "quantitative"}}},
        {"data": {"name": "one"}, "mark": {"type": "text", "text": "VDPA = 20 V", "align": "left", "baseline": "middle", "font": "Liberation Sans", "fontSize": 10, "color": "#222"},
         "encoding": {"x": {"datum": 5.99, "type": "quantitative"}, "y": {"datum": 59.0, "type": "quantitative"}}},
        {"data": {"name": "one"}, "mark": {"type": "rect", "fill": "white", "stroke": "#555", "strokeWidth": 1.3},
         "encoding": {"x": {"datum": 5.77, "type": "quantitative"}, "x2": {"datum": 9.45}, "y": {"datum": 57.1, "type": "quantitative"}, "y2": {"datum": 51.9}}},
        {"data": {"name": "one"}, "mark": {"type": "text", "text": "負荷: \"low\"", "align": "left", "baseline": "middle", "font": "Noto Sans CJK JP", "fontSize": 8.6, "color": "#3d62c8"},
         "encoding": {"x": {"datum": 5.92, "type": "quantitative"}, "y": {"datum": 55.9, "type": "quantitative"}}},
        {"data": {"name": "one"}, "mark": {"type": "text", "text": "負荷: \"high\"", "align": "left", "baseline": "middle", "font": "Noto Sans CJK JP", "fontSize": 8.6, "color": "#e8385a"},
         "encoding": {"x": {"datum": 5.92, "type": "quantitative"}, "y": {"datum": 53.1, "type": "quantitative"}}}
      ]
    }
  ],
  "config": {
    "view": {"stroke": "#333", "strokeWidth": 1.3},
    "axis": {
      "grid": true, "gridColor": "#c4c4c4", "gridDash": [1, 2], "gridWidth": 0.8,
      "domainColor": "#333", "domainWidth": 1.3, "tickColor": "#333", "tickSize": -4,
      "labelFont": "Times New Roman, Liberation Serif, serif", "labelFontSize": 16, "labelColor": "#111",
      "titleFont": "Noto Sans CJK JP", "titleFontSize": 14, "titleFontWeight": "normal", "titleColor": "#222"
    },
    "axisX": {"labelPadding": 11, "titlePadding": 7},
    "axisY": {"labelPadding": 3, "titlePadding": 4}
  }
}
